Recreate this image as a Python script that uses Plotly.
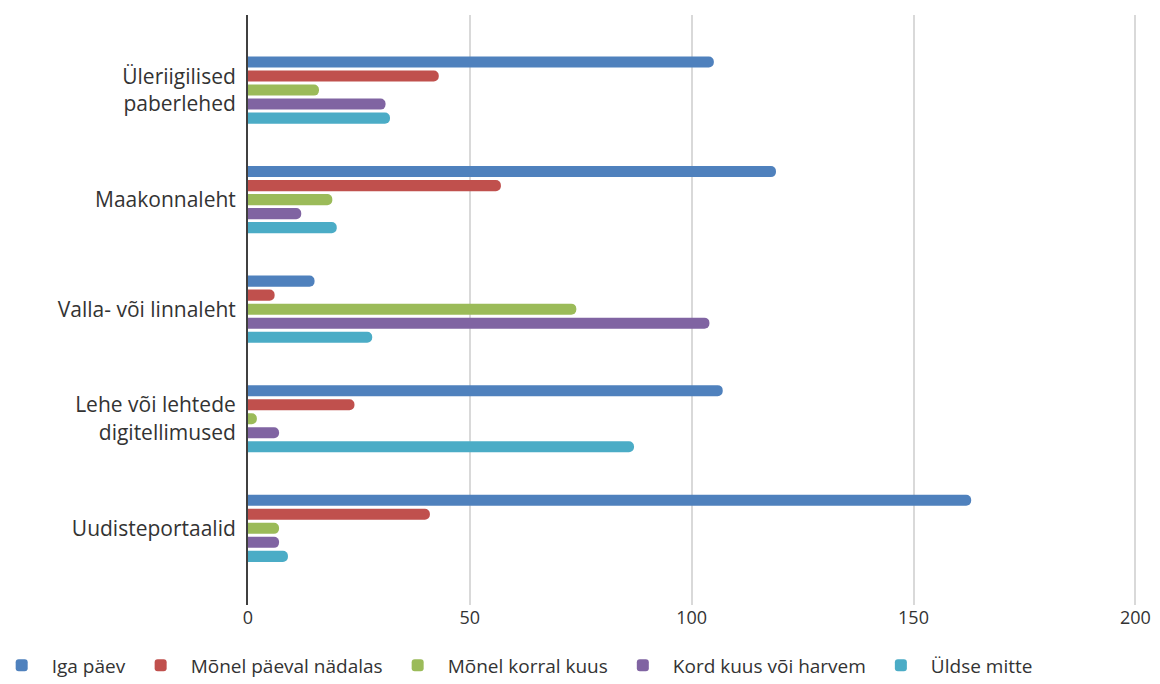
import plotly.graph_objects as go

categories = ["Üleriigilised<br>paberlehed", "Maakonnaleht", "Valla- või linnaleht",
              "Lehe või lehtede<br>digitellimused", "Uudisteportaalid"]
series_names = ["Iga päev", "Mõnel päeval nädalas", "Mõnel korral kuus",
                "Kord kuus või harvem", "Üldse mitte"]
iga_paev = [105, 119, 15, 107, 163]
monel_paeval = [43, 57, 6, 24, 41]
monel_korral = [16, 19, 74, 2, 7]
kord_kuus = [31, 12, 104, 7, 7]
uldse_mitte = [32, 20, 28, 87, 9]
x_ticks = [0, 50, 100, 150, 200]

colors = ["#4F81BD", "#C0504D", "#9BBB59", "#8064A2", "#4BACC6"]
values = [iga_paev, monel_paeval, monel_korral, kord_kuus, uldse_mitte]

fig = go.Figure()
for name, vals, col in zip(series_names, values, colors):
    fig.add_trace(go.Bar(
        y=list(range(len(categories))), x=vals, name=name, orientation="h",
        marker=dict(color=col, cornerradius=5, line=dict(width=0)),
    ))

font_fam = "Open Sans, Liberation Sans, sans-serif"
fig.update_layout(
    width=1152, height=676,
    margin=dict(l=240, r=22, t=7, b=79, autoexpand=False),
    paper_bgcolor="white", plot_bgcolor="white",
    barmode="group", bargap=0.36, bargroupgap=0.21,
    font=dict(family=font_fam, size=18, color="#333333"),
    showlegend=True,
    legend=dict(orientation="h", x=-0.288, xanchor="left", y=-0.07, yanchor="top",
                font=dict(size=19, color="#333333"), traceorder="normal",
                itemwidth=50),
    xaxis=dict(range=[0, 200.6], tickvals=x_ticks, showgrid=True, gridcolor="#D9D9D9",
               gridwidth=1.5, zeroline=False, showline=False, ticks="",
               automargin=False, tickfont=dict(size=18, color="#333333")),
    yaxis=dict(tickvals=list(range(len(categories))), ticktext=categories,
               range=[4.7, -0.685], showgrid=False, zeroline=False,
               showline=True, linecolor="#404040", linewidth=2,
               ticks="", ticklabelstandoff=6, automargin=False,
               tickfont=dict(size=21, color="#333333")),
)
fig.write_html("out.html")
